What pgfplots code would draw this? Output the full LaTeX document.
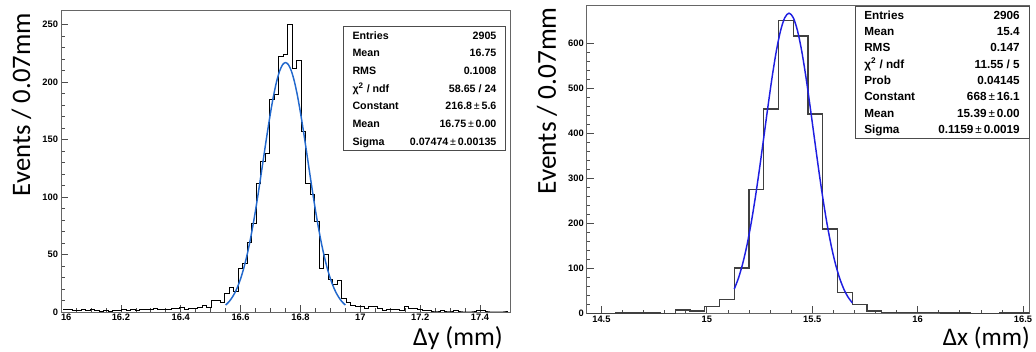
\documentclass[border=0pt]{standalone}
\usepackage{fontspec}
\setmainfont{Liberation Sans}
\newfontfamily\calibri{Carlito}
\usepackage{pgfplots}
\usepackage{pgfplotstable}
\pgfplotsset{compat=1.18}

% Delta y histogram: left bin edge, entries (bin width 0.015 mm)
\pgfplotstableread{
x n
16.0075 2
16.0225 2
16.0375 1
16.0525 1
16.0675 2
16.0825 1
16.0975 2
16.1125 1
16.1275 0
16.1425 1
16.1575 0
16.1725 1
16.1875 1
16.2025 2
16.2175 1
16.2325 2
16.2475 1
16.2625 2
16.2775 2
16.2925 2
16.3075 3
16.3225 2
16.3375 2
16.3525 2
16.3675 3
16.3825 3
16.3975 4
16.4125 2
16.4275 3
16.4425 3
16.4575 4
16.4725 6
16.4875 4
16.5025 10
16.5175 10
16.5325 8
16.5475 16
16.5625 21
16.5775 18
16.5925 38
16.6075 42
16.6225 60
16.6375 77
16.6525 112
16.6675 131
16.6825 138
16.6975 185
16.7125 189
16.7275 222
16.7425 224
16.7575 250
16.7725 212
16.7875 219
16.8025 157
16.8175 112
16.8325 102
16.8475 79
16.8625 38
16.8775 50
16.8925 28
16.9075 24
16.9225 27
16.9375 12
16.9525 8
16.9675 6
16.9825 5
16.9975 5
17.0125 3
17.0275 5
17.0425 5
17.0575 3
17.0725 1
17.0875 2
17.1025 2
17.1175 2
17.1325 1
17.1475 5
17.1625 3
17.1775 3
17.1925 2
17.2075 1
17.2225 1
17.2375 0
17.2525 0
17.2675 1
17.2825 0
17.2975 0
17.3125 1
17.3275 0
17.3425 0
17.3575 0
17.3725 0
17.3875 1
17.4025 1
17.4175 0
17.4325 0
17.4475 0
17.4625 0
17.4775 0
17.4925 0
}\dytable

% Delta x histogram: left bin edge, entries (bin width 0.07 mm)
\pgfplotstableread{
x n
14.43 0
14.50 0
14.57 1
14.64 1
14.71 1
14.78 0
14.85 7
14.92 5
14.99 15
15.06 31
15.13 101
15.20 275
15.27 455
15.34 652
15.41 617
15.48 444
15.55 188
15.62 47
15.69 19
15.76 5
15.83 2
15.90 2
15.97 2
16.04 2
16.11 1
16.18 1
16.25 0
16.32 0
16.39 1
16.46 1
16.53 0
}\dxtable

\pgfplotsset{
  rootframe/.style={
    scale only axis,
    tick align=inside,
    tick pos=left,
    axis line style={draw=black!60, line width=0.6pt},
    tick style={draw=black!70, line width=0.5pt},
    major tick length=5.5pt,
    minor tick length=2.8pt,
    /pgf/number format/assume math mode=true,
    ticklabel style={font=\fontsize{7}{8}\selectfont\bfseries},
    xticklabel style={inner sep=1.5pt},
    yticklabel style={inner sep=2pt},
  }
}

\begin{document}
\begin{tikzpicture}[x=1pt,y=1pt]
\useasboundingbox (0,0) rectangle (777,264);

% ---------- Delta y ----------
\begin{axis}[rootframe,
  at={(45.75pt,30pt)}, anchor=south west,
  width=336.75pt, height=226.5pt,
  xmin=16, xmax=17.5, ymin=0, ymax=262.5,
  xtick={16,16.2,16.4,16.6,16.8,17,17.2,17.4},
  xticklabels={\hphantom{00}16,16.2,16.4,16.6,16.8,17,17.2,17.4},
  minor x tick num=3,
  ytick={0,50,100,150,200,250},
  minor y tick num=4,
]
\addplot[const plot mark left, black, line width=0.75pt] table[x=x,y=n] {\dytable};
\addplot[smooth, color={rgb,255:red,35;green,105;blue,205}, line width=1.1pt] coordinates {
(16.55,6.04) (16.56,8.56) (16.57,11.93) (16.58,16.31) (16.59,21.92)
(16.60,28.93) (16.61,37.51) (16.62,47.77) (16.63,59.74) (16.64,73.39)
(16.65,88.58) (16.66,105.00) (16.67,122.26) (16.68,139.83) (16.69,157.07)
(16.70,173.33) (16.71,187.87) (16.72,200.02) (16.73,209.17) (16.74,214.87)
(16.75,216.80)
(16.76,214.87) (16.77,209.17) (16.78,200.02) (16.79,187.87) (16.80,173.33)
(16.81,157.07) (16.82,139.83) (16.83,122.26) (16.84,105.00) (16.85,88.58)
(16.86,73.39) (16.87,59.74) (16.88,47.77) (16.89,37.51) (16.90,28.93)
(16.91,21.92) (16.92,16.31) (16.93,11.93) (16.94,8.56) (16.95,6.04)
};
\end{axis}

% ---------- Delta x ----------
\begin{axis}[rootframe,
  at={(440pt,29pt)}, anchor=south west,
  width=332pt, height=230.7pt,
  xmin=14.43, xmax=16.53, ymin=0, ymax=684.6,
  xtick={14.5,15,15.5,16,16.5},
  minor x tick num=4,
  ytick={0,100,200,300,400,500,600},
  minor y tick num=4,
]
\addplot[const plot mark left, black!75, line width=1.05pt] table[x=x,y=n] {\dxtable};
\addplot[smooth, color={rgb,255:red,30;green,30;blue,225}, line width=1.1pt] coordinates {
(15.13,53.95) (15.15,78.28) (15.17,110.25) (15.19,150.72) (15.21,199.99)
(15.23,257.59) (15.25,322.06) (15.27,390.84) (15.29,460.40) (15.31,526.40)
(15.33,584.23) (15.35,629.38) (15.37,658.13) (15.39,668.00) (15.41,658.13)
(15.43,629.38) (15.45,584.23) (15.47,526.40) (15.49,460.40) (15.51,390.84)
(15.53,322.06) (15.55,257.59) (15.57,199.99) (15.59,150.72) (15.61,110.25)
(15.63,78.28) (15.65,53.95) (15.67,36.09) (15.69,23.43)
};
\end{axis}

% ---------- statistics boxes ----------
\begin{scope}[every node/.style={font=\fontsize{8}{9}\selectfont\bfseries, inner sep=0pt}]
\draw[black!70, line width=0.6pt, fill=white] (257.25,151.5) rectangle (378.75,244.5);
\node[anchor=mid west] at (264.2,237.2) {Entries};
\node[anchor=mid east] at (372.5,237.2) {2905};
\node[anchor=mid west] at (264.2,224.0) {Mean};
\node[anchor=mid east] at (372.5,224.0) {16.75};
\node[anchor=mid west] at (264.2,210.75) {RMS};
\node[anchor=mid east] at (372.5,210.75) {0.1008};
\node[anchor=mid west] at (264.2,197.5) {χ\textsuperscript{2} / ndf};
\node[anchor=mid east] at (372.5,197.5) {58.65 / 24};
\node[anchor=mid west] at (264.2,184.3) {Constant};
\node[anchor=mid east] at (372.5,184.3) {216.8\,{\mdseries ±}\,5.6};
\node[anchor=mid west] at (264.2,171.0) {Mean};
\node[anchor=mid east] at (372.5,171.0) {16.75\,{\mdseries ±}\,0.00};
\node[anchor=mid west] at (264.2,157.7) {Sigma};
\node[anchor=mid east] at (372.5,157.7) {0.07474\,{\mdseries ±}\,0.00135};
\end{scope}

\begin{scope}[every node/.style={font=\fontsize{8.8}{10}\selectfont\bfseries, inner sep=0pt}]
\draw[black!70, line width=0.6pt, fill=white] (641.25,160.5) rectangle (772,259);
\node[anchor=mid west] at (648,252.2) {Entries};
\node[anchor=mid east] at (765,252.2) {2906};
\node[anchor=mid west] at (648,240.0) {Mean};
\node[anchor=mid east] at (765,240.0) {15.4};
\node[anchor=mid west] at (648,227.7) {RMS};
\node[anchor=mid east] at (765,227.7) {0.147};
\node[anchor=mid west] at (648,215.5) {χ\textsuperscript{2} / ndf};
\node[anchor=mid east] at (765,215.5) {11.55 / 5};
\node[anchor=mid west] at (648,203.25) {Prob};
\node[anchor=mid east] at (765,203.25) {0.04145};
\node[anchor=mid west] at (648,191.0) {Constant};
\node[anchor=mid east] at (765,191.0) {668\,{\mdseries ±}\,16.1};
\node[anchor=mid west] at (648,178.7) {Mean};
\node[anchor=mid east] at (765,178.7) {15.39\,{\mdseries ±}\,0.00};
\node[anchor=mid west] at (648,166.5) {Sigma};
\node[anchor=mid east] at (765,166.5) {0.1159\,{\mdseries ±}\,0.0019};
\end{scope}

% ---------- axis titles ----------
\node[rotate=90, anchor=east, inner sep=0pt, font=\calibri\fontsize{20}{24}\selectfont] at (16.1,254.25) {Events / 0.07mm};
\node[rotate=90, anchor=east, inner sep=0pt, font=\calibri\fontsize{20.5}{24}\selectfont] at (410.25,258.75) {Events / 0.07mm};
\node[anchor=east, inner sep=0pt, font=\calibri\fontsize{19.5}{23}\selectfont] at (377.25,10.5) {Δy (mm)};
\node[anchor=east, inner sep=0pt, font=\calibri\fontsize{19}{23}\selectfont] at (772.5,10.5) {Δx (mm)};
\end{tikzpicture}
\end{document}
